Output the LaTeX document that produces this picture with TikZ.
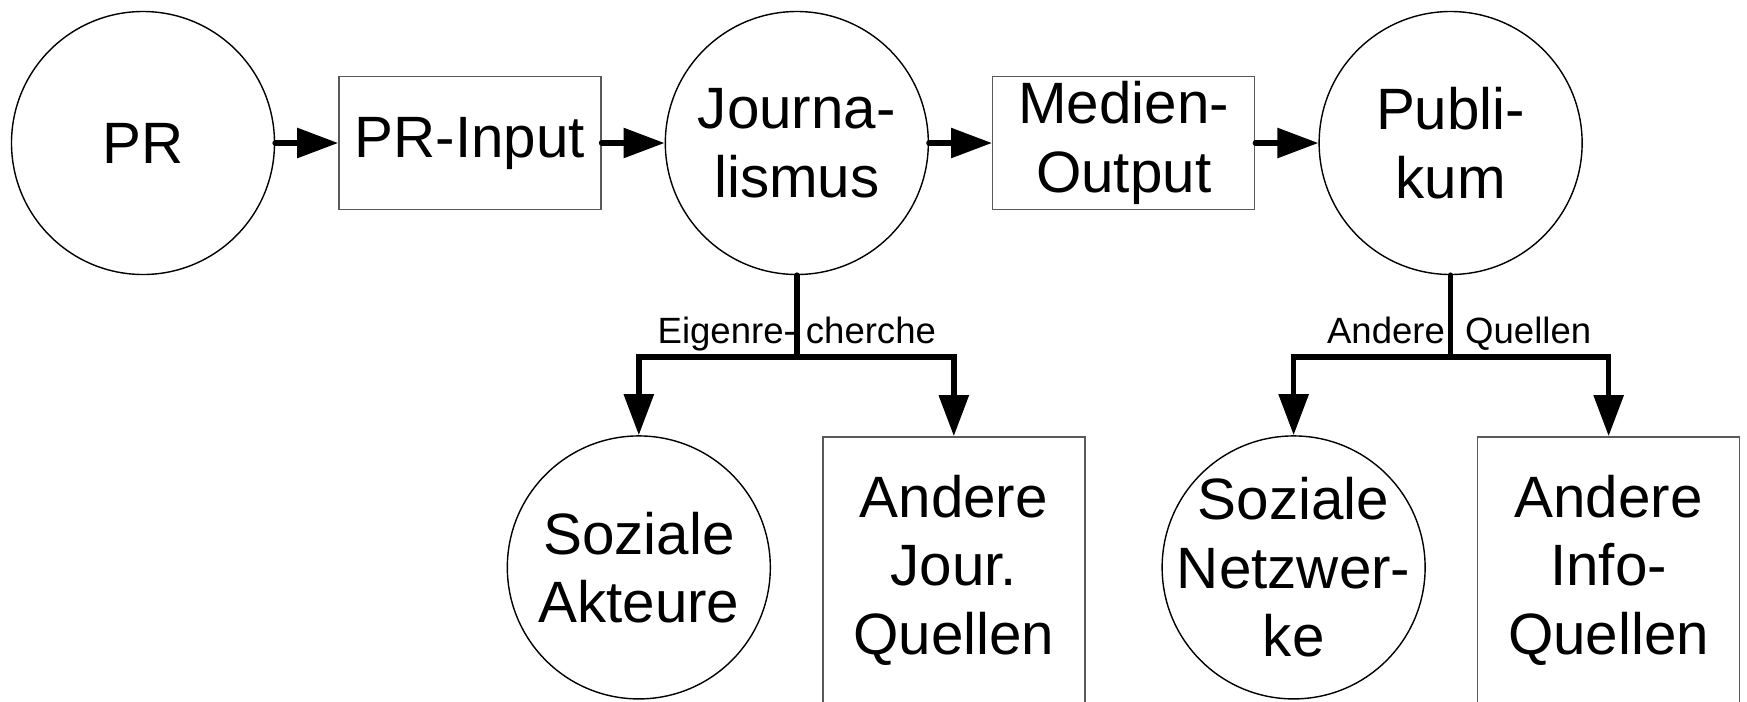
\documentclass[tikz,border=0pt]{standalone}
\usepackage{fontspec}
\setmainfont{Liberation Sans}
\usetikzlibrary{positioning, arrows.meta}

\begin{document}
\begin{tikzpicture}[
	actor/.style={circle, draw=black, thin, minimum size=2.63cm, inner sep=0, align=center, font=\fontsize{16.6}{19.5}\selectfont},
	source/.style={rectangle, draw=black!65, thin, minimum width=2.62cm, minimum height=1.33cm, inner sep=0, align=center, font=\fontsize{16.6}{19.5}\selectfont},
	flow/.style={-{Triangle[length=4.1mm, width=2.9mm]}, line width=1.6pt, line cap=round},
	stem/.style={line width=1.6pt, line cap=round},
	note/.style={font=\fontsize{10.4}{12}\selectfont, anchor=base},
	]
	\useasboundingbox (0,0) rectangle (17.47,-7.01);

		%Nodes
    \node[actor]        (PR)      at (1.43,-1.43)                  {PR};
    \node[source]       (PRin)    [right=0.63cm of PR]             {PR-Input};
    \node[actor]        (Journ)   [right=0.63cm of PRin]           {Journa-\\lismus};
    \node[source]       (MedOut)  [right=0.63cm of Journ]          {Medien-\\Output};
    \node[actor]        (Publ)    [right=0.63cm of MedOut]         {Publi-\\kum};

    \node[actor]        (SozAkt)  [below=1.6cm of Journ, xshift=-1.58cm]   {Soziale\\Akteure};
    \node[source, minimum height=2.66cm] (AndJour) [below=1.61cm of Journ, xshift=1.57cm] {Andere\\Jour.\\Quellen};
    \node[actor, inner sep=-2.5mm] (SozNet) [below=1.6cm of Publ, xshift=-1.57cm] {Soziale\\Netzwer-\\ke};
    \node[source, minimum height=2.66cm] (AndInfo) [below=1.61cm of Publ, xshift=1.58cm] {Andere\\Info-\\Quellen};

		%Lines
		\draw[flow] (PR) to (PRin);
		\draw[flow] (PRin) to (Journ);
		\draw[flow] (Journ) to (MedOut);
		\draw[flow] (MedOut) to (Publ);

		\draw[stem] (Journ.south) -- ++(0,-0.82) coordinate (jfork);
		\draw[flow] (jfork) -| (SozAkt.north);
		\draw[flow] (jfork) -| (AndJour.north);
		\node[note] (jlabel) at ([yshift=0.14cm]jfork) {Eigenre- cherche};

		\draw[stem] (Publ.south) -- ++(0,-0.82) coordinate (pfork);
		\draw[flow] (pfork) -| (SozNet.north);
		\draw[flow] (pfork) -| (AndInfo.north);
		\node[note] (plabel) at ([xshift=0.085cm, yshift=0.14cm]pfork) {Andere\ \ Quellen};
	\end{tikzpicture}
\end{document}
